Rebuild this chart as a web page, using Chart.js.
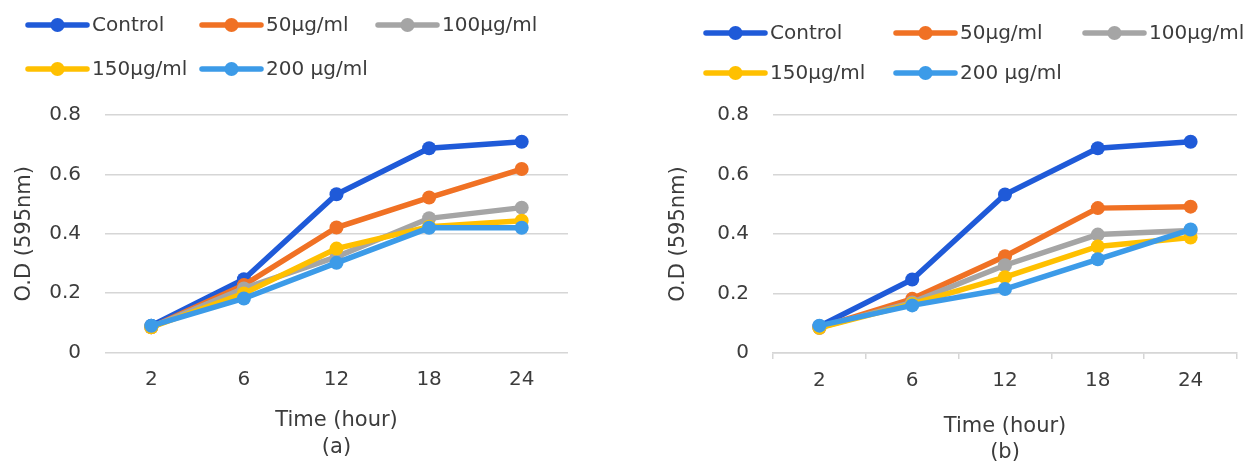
<!DOCTYPE html>
<html>
<head>
<meta charset="utf-8">
<script src="https://cdn.jsdelivr.net/npm/chart.js@4.4.1/dist/chart.umd.min.js"></script>
<style>
  body { margin: 0; background: #fff; }
  #wrap { position: relative; width: 1253px; height: 466px; }
  .box { position: absolute; top: 0; height: 466px; }
  #boxA { left: 0; width: 626px; }
  #boxB { left: 626px; width: 627px; }
</style>
</head>
<body>
<div id="wrap">
  <div class="box" id="boxA"><canvas id="chartA"></canvas></div>
  <div class="box" id="boxB"><canvas id="chartB"></canvas></div>
</div>
<script>
// categories (time in hours) and series names
const hours = ['2', '6', '12', '18', '24'];
const seriesNames = ['Control', '50µg/ml', '100µg/ml', '150µg/ml', '200 µg/ml'];
const yMin = 0;
const yMax = 0.8;
const yStep = 0.2;

// panel (a) values, O.D at 595nm
const controlA = [0.09, 0.247, 0.533, 0.688, 0.71];
const dose50A = [0.085, 0.227, 0.421, 0.522, 0.618];
const dose100A = [0.085, 0.216, 0.322, 0.452, 0.488];
const dose150A = [0.085, 0.199, 0.35, 0.424, 0.444];
const dose200A = [0.09, 0.182, 0.302, 0.42, 0.42];

// panel (b) values
const controlB = [0.09, 0.247, 0.533, 0.688, 0.71];
const dose50B = [0.085, 0.182, 0.325, 0.487, 0.492];
const dose100B = [0.085, 0.17, 0.295, 0.398, 0.412];
const dose150B = [0.085, 0.165, 0.255, 0.358, 0.388];
const dose200B = [0.092, 0.16, 0.215, 0.315, 0.415];

const colors = ['#1f5ad8', '#f07124', '#a5a5a5', '#ffc000', '#3c9be8'];
const textColor = '#3c3c3c';
const gridColor = '#d6d6d6';
const fontFamily = '"DejaVu Sans", sans-serif';

// legend drawn in rows/columns like the Excel one
const rowLegend = {
    id: 'rowLegend',
    afterDraw(chart, args, opts) {
        const ctx = chart.ctx;
        ctx.save();
        ctx.font = '20px ' + fontFamily;
        ctx.textBaseline = 'middle';
        chart.data.datasets.forEach((ds, i) => {
            const p = opts.spots[i];
            ctx.strokeStyle = ds.borderColor;
            ctx.lineWidth = 5.5;
            ctx.lineCap = 'round';
            ctx.beginPath();
            ctx.moveTo(p[0], p[1]);
            ctx.lineTo(p[0] + opts.lineLen, p[1]);
            ctx.stroke();
            ctx.fillStyle = ds.borderColor;
            ctx.beginPath();
            ctx.arc(p[0] + opts.lineLen / 2, p[1], 7, 0, Math.PI * 2);
            ctx.fill();
            ctx.fillStyle = textColor;
            ctx.fillText(ds.label, p[0] + opts.lineLen + 5, p[1] + 1);
        });
        ctx.restore();
    }
};

function makePanel(canvasId, series, panel) {
    const datasets = series.map((vals, i) => ({
        label: seriesNames[i],
        data: vals,
        borderColor: colors[i],
        backgroundColor: colors[i],
        pointBackgroundColor: colors[i],
        pointBorderWidth: 0,
        pointRadius: 7,
        borderWidth: 5.5,
        tension: 0,
        order: series.length - i
    }));

    const xGrid = panel.axisTicks
        ? { display: true, drawOnChartArea: false, drawTicks: true, tickLength: 6, offset: true, color: gridColor, lineWidth: 1.5 }
        : { display: false, drawTicks: false };

    new Chart(document.getElementById(canvasId), {
        type: 'line',
        data: { labels: hours, datasets: datasets },
        options: {
            responsive: true,
            maintainAspectRatio: false,
            animation: false,
            layout: { padding: { top: 115, left: 0, right: panel.padRight, bottom: 0 } },
            plugins: {
                legend: { display: false },
                tooltip: { enabled: false },
                rowLegend: { spots: panel.legendSpots, lineLen: 59 }
            },
            scales: {
                x: {
                    offset: true,
                    grid: xGrid,
                    border: { display: panel.axisTicks, color: gridColor, width: 1.5 },
                    ticks: {
                        color: textColor,
                        font: { family: fontFamily, size: 20 },
                        padding: panel.xTickPad,
                        maxRotation: 0,
                        autoSkip: false
                    },
                    title: {
                        display: true,
                        text: ['Time (hour)', panel.tag],
                        color: textColor,
                        font: { family: fontFamily, size: 21, lineHeight: panel.titleLine },
                        padding: { top: 0, bottom: panel.titlePadBottom }
                    },
                    afterFit(scale) { scale.height = 466 - panel.plotBottom; }
                },
                y: {
                    min: yMin,
                    max: yMax,
                    ticks: {
                        stepSize: yStep,
                        color: textColor,
                        font: { family: fontFamily, size: 20 },
                        padding: 24,
                        callback: v => (v === 0 ? '0' : v.toFixed(1))
                    },
                    grid: { color: gridColor, lineWidth: 1.5, drawTicks: false },
                    border: { display: false },
                    title: {
                        display: true,
                        text: 'O.D (595nm)',
                        color: textColor,
                        font: { family: fontFamily, size: 21 },
                        padding: { top: panel.yTitlePad, bottom: 0 }
                    },
                    afterFit(scale) { scale.width = panel.plotLeft; }
                }
            }
        },
        plugins: [rowLegend]
    });
}

makePanel('chartA', [controlA, dose50A, dose100A, dose150A, dose200A], {
    tag: '(a)',
    axisTicks: false,
    plotLeft: 105,
    padRight: 58,
    plotBottom: 352.5,
    xTickPad: 15.5,
    titleLine: 1.33,
    titlePadBottom: 4,
    yTitlePad: 12,
    legendSpots: [[28, 25], [202, 25], [378, 25], [28, 69], [202, 69]]
});

makePanel('chartB', [controlB, dose50B, dose100B, dose150B, dose200B], {
    tag: '(b)',
    axisTicks: true,
    plotLeft: 147,
    padRight: 16,
    plotBottom: 353,
    xTickPad: 9.5,
    titleLine: 1.24,
    titlePadBottom: 0,
    yTitlePad: 40,
    legendSpots: [[80, 33], [270, 33], [459, 33], [80, 73], [270, 73]]
});
</script>
</body>
</html>
